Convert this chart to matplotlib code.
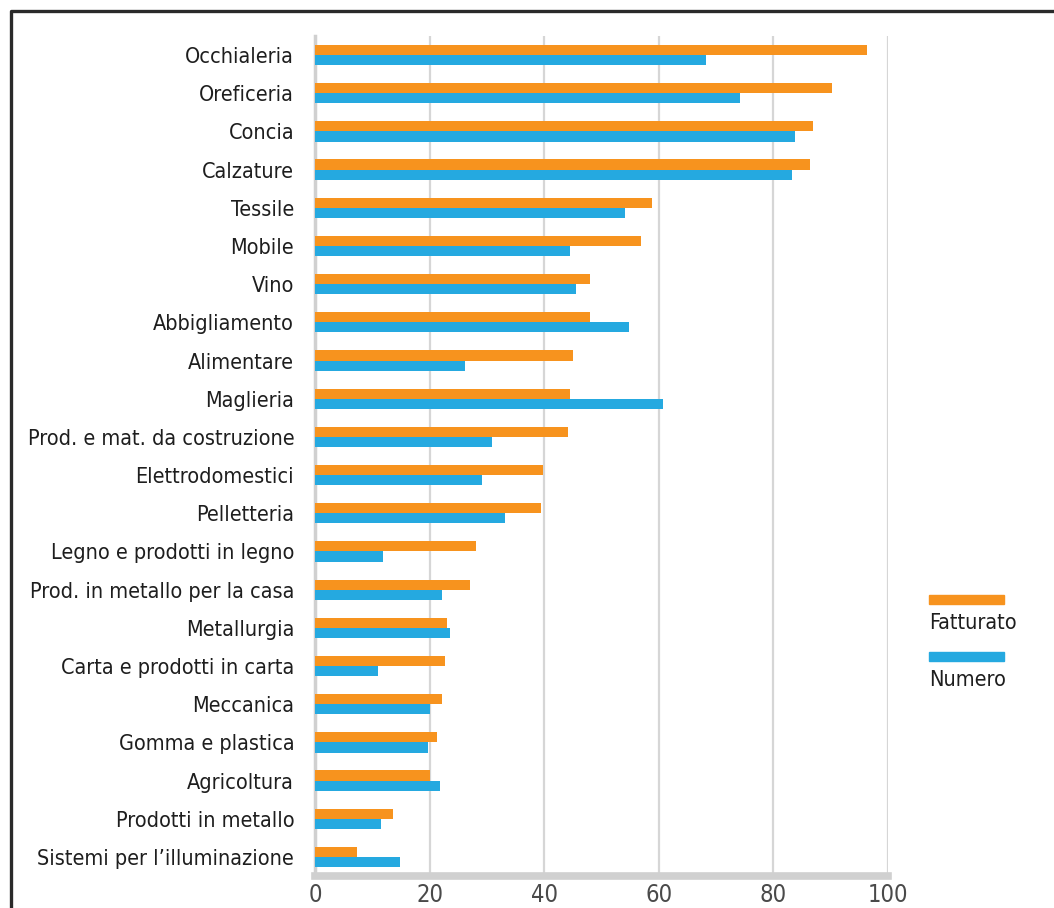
import numpy as np
import matplotlib
matplotlib.use('Agg')
import matplotlib.pyplot as plt
from matplotlib.lines import Line2D
from matplotlib.patches import Rectangle

plt.rcParams['font.family'] = ['DejaVu Sans']
plt.rcParams['font.stretch'] = 'condensed'

# data
categories = ['Occhialeria', 'Oreficeria', 'Concia', 'Calzature', 'Tessile', 'Mobile',
              'Vino', 'Abbigliamento', 'Alimentare', 'Maglieria',
              'Prod. e mat. da costruzione', 'Elettrodomestici', 'Pelletteria',
              'Legno e prodotti in legno', 'Prod. in metallo per la casa', 'Metallurgia',
              'Carta e prodotti in carta', 'Meccanica', 'Gomma e plastica', 'Agricoltura',
              'Prodotti in metallo', "Sistemi per l’illuminazione"]
fatturato = [96.4, 90.3, 86.9, 86.3, 58.8, 56.9, 48.0, 48.0, 45.0, 44.5, 44.1,
             39.8, 39.4, 28.1, 27.0, 23.0, 22.7, 22.2, 21.3, 20.1, 13.6, 7.3]
numero = [68.2, 74.1, 83.7, 83.2, 54.1, 44.5, 45.5, 54.8, 26.2, 60.7, 30.9,
          29.1, 33.1, 11.9, 22.2, 23.5, 11.0, 20.1, 19.7, 21.8, 11.5, 14.8]
xticks = [0, 20, 40, 60, 80, 100]
series_names = ['Fatturato', 'Numero']

orange = '#f7931e'
blue = '#25a9e0'

fig = plt.figure(figsize=(10.54, 9.08), dpi=100, facecolor='white')
ax = fig.add_axes([0.2989, 0.0352, 0.5436, 0.9252])

y = np.arange(len(categories))
h = 0.265
ax.barh(y - h / 2, fatturato, height=h, color=orange, zorder=3)
ax.barh(y + h / 2, numero, height=h, color=blue, zorder=3)

ax.set_ylim(len(categories) - 0.5, -0.5)
ax.set_xlim(0, 100)
ax.set_yticks(y)
ax.set_yticklabels(categories, fontsize=15.5, color='#1e1e1e')
ax.set_xticks(xticks)
ax.set_xticklabels([str(t) for t in xticks], fontsize=17, color='#4a4a4a')
ax.tick_params(axis='both', length=0)
ax.tick_params(axis='y', pad=15)
ax.tick_params(axis='x', pad=5)

ax.grid(axis='x', color='#d6d6d6', linewidth=1.6, zorder=0)
for s in ['top', 'right']:
    ax.spines[s].set_visible(False)
ax.spines['left'].set_color('#d0d0d0')
ax.spines['left'].set_linewidth(2.5)
ax.spines['bottom'].set_color('#d0d0d0')
ax.spines['bottom'].set_linewidth(5.5)

# legend on the right, handle above text
W, H = 1054, 908
for i, (name, col) in enumerate(zip(series_names, [orange, blue])):
    top = 595 + i * 57
    fig.patches.append(Rectangle((929 / W, 1 - (top + 9) / H), 75 / W, 9 / H,
                                 transform=fig.transFigure, color=col))
    fig.text(929 / W, 1 - (top + 28) / H, name, fontsize=15.5, color='#1e1e1e',
             va='center', ha='left')

# dark frame (left and top edges)
fig.add_artist(Line2D([10.5 / W, 10.5 / W, 1], [0, 1 - 10.5 / H, 1 - 10.5 / H],
                      transform=fig.transFigure, color='#2a2a2a', linewidth=2.4))

fig.savefig('out.png', dpi=100, facecolor='white')
